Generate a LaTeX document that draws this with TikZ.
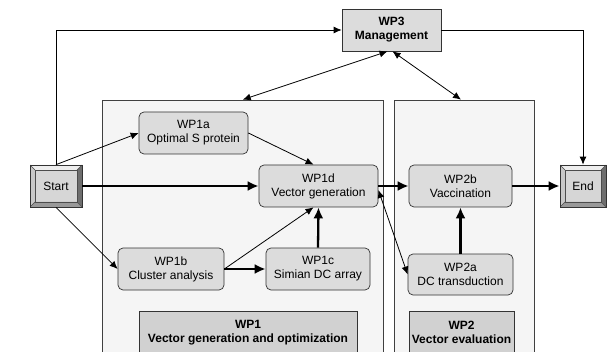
\documentclass[tikz,border=0pt]{standalone}
\usepackage{fontspec}
\setmainfont{Liberation Sans}
\usetikzlibrary{arrows.meta,calc}

\definecolor{panelfill}{HTML}{F5F5F5}
\definecolor{boxfill}{HTML}{DCDCDC}
\definecolor{btnface}{HTML}{D6D6D6}
\definecolor{bevtop}{HTML}{EEEEEE}
\definecolor{bevleft}{HTML}{C8C8C8}
\definecolor{bevright}{HTML}{6E6E6E}
\definecolor{bevbottom}{HTML}{999999}

% bevel of the start/end buttons
\newcommand{\bevel}[1]{%
	\fill[bevtop] (#1.north west) -- (#1.north east) -- ([shift={(-5pt,-5pt)}]#1.north east) -- ([shift={(5pt,-5pt)}]#1.north west) -- cycle;
	\fill[bevleft] (#1.north west) -- ([shift={(5pt,-5pt)}]#1.north west) -- ([shift={(5pt,5pt)}]#1.south west) -- (#1.south west) -- cycle;
	\fill[bevright] (#1.north east) -- (#1.south east) -- ([shift={(-5pt,5pt)}]#1.south east) -- ([shift={(-5pt,-5pt)}]#1.north east) -- cycle;
	\fill[bevbottom] (#1.south west) -- (#1.south east) -- ([shift={(-5pt,5pt)}]#1.south east) -- ([shift={(5pt,5pt)}]#1.south west) -- cycle;
	\draw[black!70, line width=0.5pt] ([shift={(5pt,-5pt)}]#1.north west) rectangle ([shift={(-5pt,5pt)}]#1.south east);
	\draw[black!70, line width=0.5pt] (#1.north west) -- ([shift={(5pt,-5pt)}]#1.north west)
		(#1.north east) -- ([shift={(-5pt,-5pt)}]#1.north east)
		(#1.south west) -- ([shift={(5pt,5pt)}]#1.south west)
		(#1.south east) -- ([shift={(-5pt,5pt)}]#1.south east);
}

\tikzset{
	txt/.style={font=\fontsize{12}{14}\selectfont, align=center},
	wpbox/.style={txt, draw=black!80, line width=0.7pt, fill=boxfill, rounded corners=5pt, minimum height=42pt, inner sep=0pt},
	mgmt/.style={txt, draw=black!80, line width=0.7pt, fill=boxfill, minimum height=42pt, inner sep=0pt, font=\fontsize{12}{14}\selectfont\bfseries},
	panel/.style={draw=black!75, line width=0.7pt, fill=panelfill, inner sep=0pt},
	wplabel/.style={mgmt, fill=boxfill!95!black},
	btn/.style={txt, draw=black!80, line width=0.7pt, fill=btnface, minimum height=42pt, inner sep=0pt,
		path picture={\bevel{path picture bounding box}}},
	link/.style={-{Latex[length=8pt,width=7pt]}, line width=0.8pt},
	dlink/.style={{Latex[length=8pt,width=7pt]}-{Latex[length=8pt,width=7pt]}, line width=0.8pt},
	flow/.style={-{Latex[length=11pt,width=10pt]}, line width=2.3pt}
}

\begin{document}
\begin{tikzpicture}[x=1pt,y=-1pt]
	\useasboundingbox (0,0) rectangle (609,352);

	\begin{scope}
		\clip (0,0) rectangle (609,352);
		\node[panel, minimum width=280.5pt, minimum height=262pt]	(pan1) at (242.75,231) {};
		\node[panel, minimum width=140pt, minimum height=262pt]		(pan2) at (464,231) {};
		\node[wplabel, minimum width=218pt, minimum height=43pt]	(lab1) at (248,332.5) {WP1\\Vector generation and optimization};
		\node[wplabel, minimum width=105pt, minimum height=43pt]	(lab2) at (461.5,332.5) {WP2\\Vector evaluation};
	\end{scope}

	\node[mgmt, minimum width=99pt]		(wp3)	at (391.5,30)	{WP3\\Management};
	\node[btn, minimum width=52pt]		(start)	at (56,186)		{Start};
	\node[btn, minimum width=46pt]		(end)	at (583,186)	{End};
	\node[wpbox, minimum width=109pt]	(wp1a)	at (193.5,133)	{WP1a\\Optimal S protein};
	\node[wpbox, minimum width=119pt]	(wp1d)	at (318.5,186)	{WP1d\\Vector generation};
	\node[wpbox, minimum width=106pt]	(wp1b)	at (171,269)	{WP1b\\Cluster analysis};
	\node[wpbox, minimum width=104pt]	(wp1c)	at (318,269)	{WP1c\\Simian DC array};
	\node[wpbox, minimum width=103pt]	(wp2b)	at (460.5,186)	{WP2b\\Vaccination};
	\node[wpbox, minimum width=105pt, minimum height=41pt]	(wp2a)	at (460.5,274.5)	{WP2a\\DC transduction};

	% management links
	\draw[link]		(start.north) |- (wp3.west);
	\draw[link]		(wp3.east) -| (end.north);
	\draw[dlink]	([xshift=-4pt]wp3.south) -- (pan1.north);
	\draw[dlink]	([xshift=1pt]wp3.south) -- ([xshift=-3pt]pan2.north);

	% work package flow
	\draw[link]		(start.north) -- (wp1a.west);
	\draw[link]		(start.south) -- (wp1b.west);
	\draw[flow]		(start.east) -- (wp1d.west);
	\draw[link]		(wp1a.east) -- ([xshift=-5pt]wp1d.north);
	\draw[link]		(wp1b.east) -- ([xshift=-5pt]wp1d.south);
	\draw[flow]		(wp1b.east) -- (wp1c.west);
	\draw[flow]		(wp1c.north) -- (wp1d.south);
	\draw[flow]		(wp1d.east) -- (wp2b.west);
	\draw[dlink]	([yshift=-4pt]wp1d.east) -- (wp2a.west);
	\draw[flow]		(wp2a.north) -- (wp2b.south);
	\draw[flow]		(wp2b.east) -- (end.west);
\end{tikzpicture}
\end{document}
